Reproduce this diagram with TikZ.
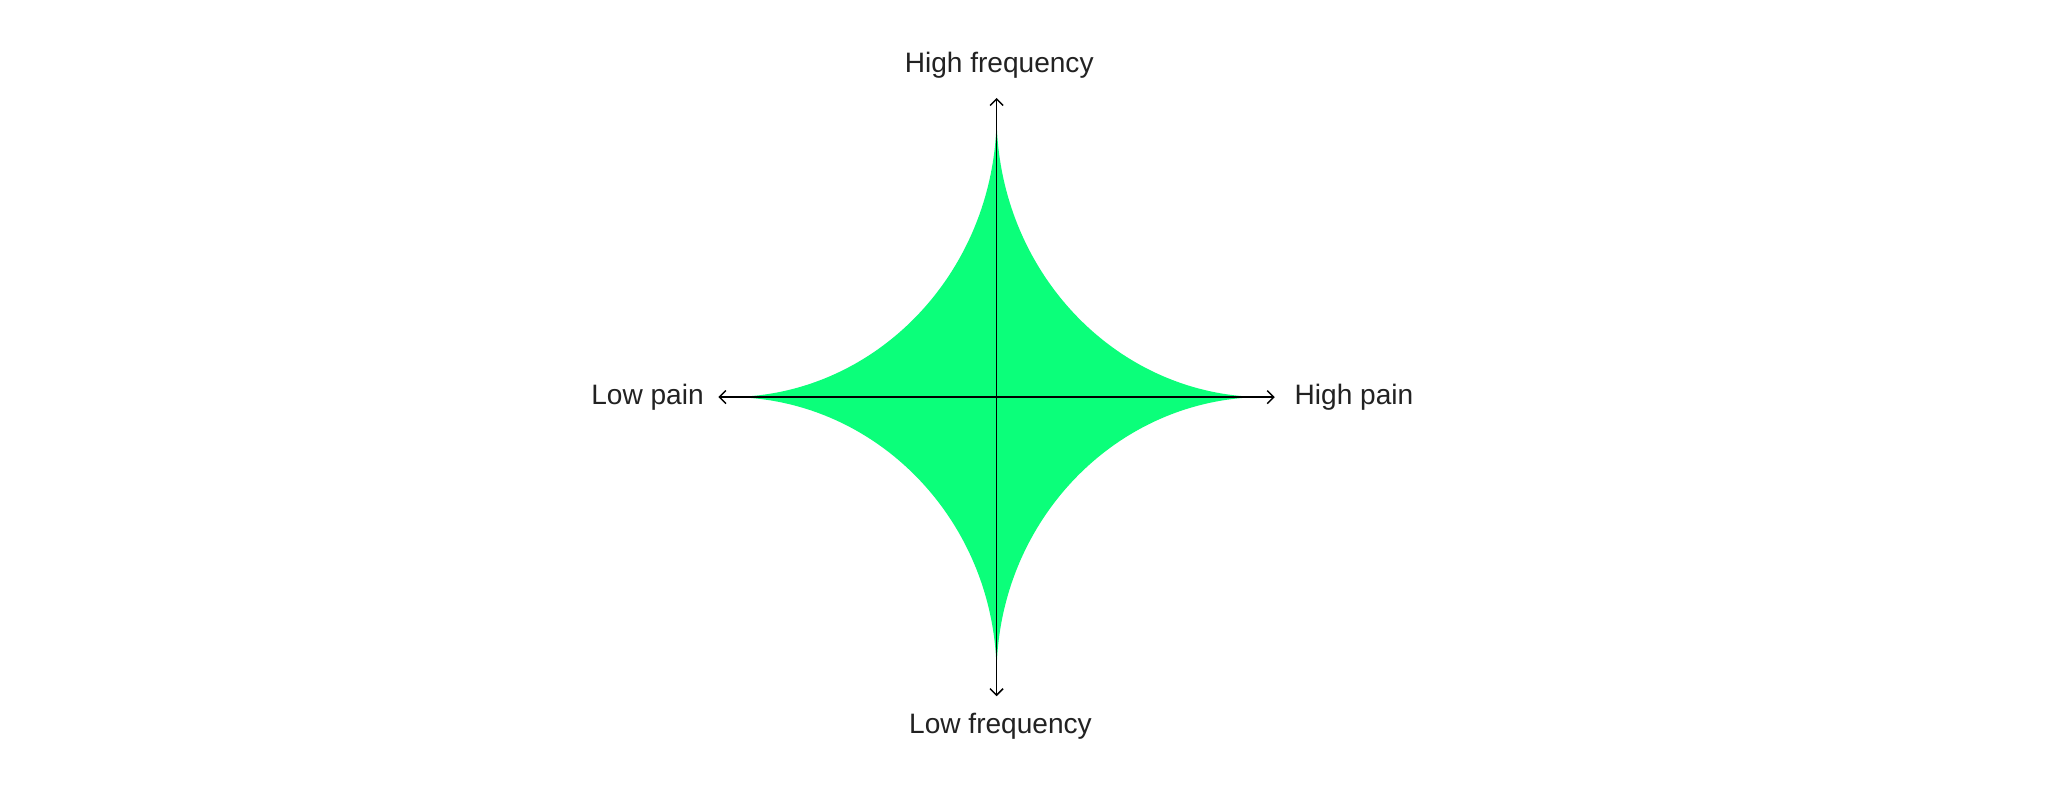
\documentclass[tikz,border=0pt]{standalone}
\usepackage{fontspec}
\usetikzlibrary{arrows.meta}
\setmainfont{Liberation Sans}
\definecolor{star}{HTML}{0BFF7A}
\definecolor{txt}{HTML}{222222}
\begin{document}
\begin{tikzpicture}[x=1pt,y=1pt,
  lbl/.style={text=txt,font=\fontsize{21.5}{25}\selectfont,inner sep=0pt},
  ax/.style={draw=black,line width=1.1pt,{Straight Barb[length=5pt]}-{Straight Barb[length=5pt]}}]
\useasboundingbox (0,0) rectangle (1568,608);
\fill[star] (763,520) arc[start angle=180,end angle=270,x radius=205,y radius=216]
  arc[start angle=90,end angle=180,x radius=205,y radius=213]
  arc[start angle=0,end angle=90,x radius=205,y radius=213]
  arc[start angle=270,end angle=360,x radius=205,y radius=216];
\coordinate (L) at (550,304); \coordinate (R) at (976,304);
\coordinate (T) at (763,533); \coordinate (B) at (763,75);
\draw[ax] (L) -- (R);
\draw[ax] (B) -- (T);
\node[lbl] (hf) at (765,558) {High frequency};
\node[lbl] (lf) at (766,52) {Low frequency};
\node[lbl,anchor=east] (lp) at (539,304) {Low pain};
\node[lbl,anchor=west] (hp) at (991,304) {High pain};
\end{tikzpicture}
\end{document}
